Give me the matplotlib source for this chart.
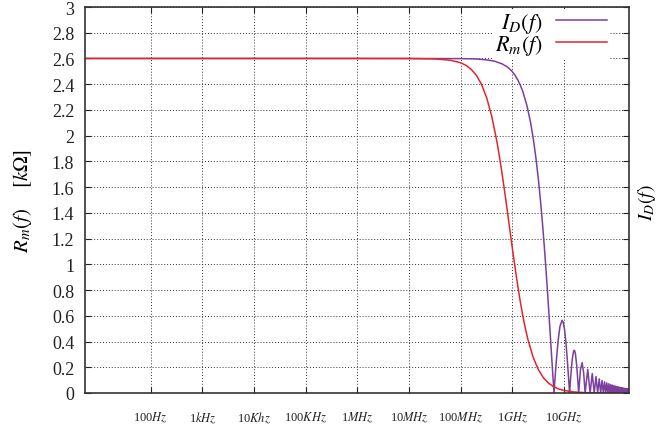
import matplotlib
matplotlib.use("Agg")
import matplotlib.pyplot as plt
import numpy as np

plt.rcParams['font.family'] = ['Liberation Serif', 'DejaVu Serif']
plt.rcParams['mathtext.fontset'] = 'stix'

# ---------------- data ----------------
# I_D(f): main lobe + first three side lobes (frequency in GHz)
id_main_ghz = [5.4e-9, 1e-3, 0.1, 0.2, 0.32, 0.45, 0.64, 0.8, 0.96, 1.12, 1.28, 1.44, 1.6,
               1.92, 2.24, 2.56, 2.88,
               3.2, 3.52, 3.84, 4.16, 4.48, 4.8, 5.12, 5.44, 5.76, 6.08, 6.4,
               6.72, 7.04, 7.68, 8.32, 9.15, 9.6, 10.24, 10.88, 11.52, 12.16, 12.48, 12.8,
               13.44, 14.4, 15.36, 16.0, 16.64, 17.6, 18.56, 19.2,
               20.8, 22.4, 24.0, 25.6]
id_main_val = [2.6, 2.6, 2.599, 2.596, 2.589, 2.579, 2.557, 2.534, 2.505, 2.471, 2.432, 2.389,
               2.341, 2.232, 2.107, 1.968, 1.816,
               1.655, 1.486, 1.312, 1.134, 0.957, 0.780, 0.608, 0.442, 0.284, 0.136, 0.0,
               0.123, 0.232, 0.405, 0.515, 0.565, 0.552, 0.492, 0.394, 0.270, 0.135, 0.066, 0.0,
               0.122, 0.260, 0.328, 0.331, 0.303, 0.213, 0.088, 0.0,
               0.180, 0.236, 0.156, 0.0]
# I_D(f): remaining side lobes, peaks and zeros (GHz)
id_tail_peak_ghz = [28.8, 35.2, 41.6, 48.0, 54.4, 60.8, 67.2, 73.6, 80.0, 86.4, 92.8, 99.2,
                    105.6, 112.0, 118.4, 124.8, 131.2, 137.6, 144.0, 150.4, 156.8, 163.2,
                    169.6, 176.0, 182.4]
id_tail_peak_val = [0.184, 0.151, 0.127, 0.110, 0.097, 0.087, 0.079, 0.072, 0.066, 0.061,
                    0.057, 0.053, 0.050, 0.047, 0.045, 0.042, 0.040, 0.0385, 0.037, 0.035,
                    0.034, 0.0325, 0.031, 0.030, 0.029]
id_tail_zero_ghz = [32.0, 38.4, 44.8, 51.2, 57.6, 64.0, 70.4, 76.8, 83.2, 89.6, 96.0, 102.4,
                    108.8, 115.2, 121.6, 128.0, 134.4, 140.8, 147.2, 153.6, 160.0, 166.4,
                    172.8, 179.2, 185.6]

# R_m(f): frequency as log10(f / 1 GHz), value in kOhm
rm_logf_ghz = [-8.27, -4.0, -2.0, -1.5, -1.2, -1.0, -0.9, -0.8, -0.7, -0.6, -0.5, -0.4,
               -0.3, -0.25, -0.2, -0.15, -0.1, -0.05, 0.0, 0.05, 0.1, 0.15, 0.2, 0.25,
               0.3, 0.4, 0.5, 0.6, 0.7, 0.8, 0.9, 1.0, 1.2, 1.4, 1.7, 2.0, 2.27]
rm_val = [2.6, 2.6, 2.5997, 2.5966, 2.5865, 2.5663, 2.547, 2.517, 2.4709, 2.4012, 2.2984,
          2.1525, 1.9555, 1.8375, 1.7078, 1.5684, 1.4224, 1.2728, 1.1245, 0.9804, 0.8442,
          0.7186, 0.6052, 0.5049, 0.4177, 0.2802, 0.1841, 0.1193, 0.0766, 0.0488, 0.0310,
          0.0197, 0.0079, 0.0031, 0.0008, 0.0002, 0.0001]

xtick_vals = [1e2, 1e3, 1e4, 1e5, 1e6, 1e7, 1e8, 1e9, 1e10]
xtick_labels = [r'100$Hz$', r'1$kHz$', r'10$Khz$', r'100$KHz$', r'1$MHz$', r'10$MHz$',
                r'100$MHz$', r'1$GHz$', r'10$GHz$']
ytick_vals = [0, 0.2, 0.4, 0.6, 0.8, 1, 1.2, 1.4, 1.6, 1.8, 2, 2.2, 2.4, 2.6, 2.8, 3]
ytick_labels = ['0', '0.2', '0.4', '0.6', '0.8', '1', '1.2', '1.4', '1.6', '1.8', '2',
                '2.2', '2.4', '2.6', '2.8', '3']

# ---------------- assemble series ----------------
id_f = list(id_main_ghz)
id_v = list(id_main_val)
for pf, pv, zf in zip(id_tail_peak_ghz, id_tail_peak_val, id_tail_zero_ghz):
    id_f += [pf, zf]
    id_v += [pv, 0.0]
id_f = np.array(id_f) * 1e9
id_v = np.array(id_v)
rm_f = 1e9 * 10 ** np.array(rm_logf_ghz)

purple = '#7b3f9e'
red = '#e3262b'

fig = plt.figure(figsize=(6.57, 4.27), dpi=100)
ax = fig.add_axes([85.3/657, 1-394/427, (629-85.3)/657, (394-8)/427])

ax.plot(id_f, id_v, color=purple, lw=1.1, label=r'$I_D(f)$', zorder=2)
ax.plot(rm_f, rm_val, color=red, lw=1.1, label=r'$R_m(f)$', zorder=2.1)

ax.set_xscale('log')
ax.set_xlim(5.42, 1.81e11)
ax.set_ylim(0, 3)
ax.set_xticks(xtick_vals)
ax.set_xticklabels(xtick_labels, fontsize=9)
ax.xaxis.set_minor_locator(matplotlib.ticker.NullLocator())
ax.set_yticks(ytick_vals)
ax.set_yticklabels(ytick_labels, fontsize=13)

ax.tick_params(axis='x', which='major', direction='in', length=4, width=0.8,
               top=True, bottom=True, pad=12, colors='#222')
ax.tick_params(axis='y', which='major', direction='in', length=4, width=0.8,
               left=True, right=True, pad=8, colors='#222')

ax.grid(True, which='major', color='#333', linestyle=(0, (1, 2)), lw=0.7)
for s in ax.spines.values():
    s.set_color('#333')
    s.set_linewidth(1.2)

ax.set_ylabel(r'$R_m(f)$    $[k\Omega]$', fontsize=15)
ax.yaxis.set_label_coords(-(85.3-34)/(629-85.3), 0.5)
fig.text(647/657, 1-203/427, r'$I_D(f)$', rotation=90, fontsize=14,
         ha='center', va='center')

leg = ax.legend(loc='upper right', bbox_to_anchor=((609-85.3)/(629-85.3), (394-10)/(394-8)),
                borderaxespad=0, markerfirst=False, fontsize=16, handlelength=2.3,
                handletextpad=0.58, labelspacing=-0.1, borderpad=0.1,
                frameon=True, fancybox=False, framealpha=1.0)
leg.get_frame().set_edgecolor('none')
leg.get_frame().set_facecolor('white')
leg.set_zorder(1.8)

fig.savefig('out.png', dpi=100)
